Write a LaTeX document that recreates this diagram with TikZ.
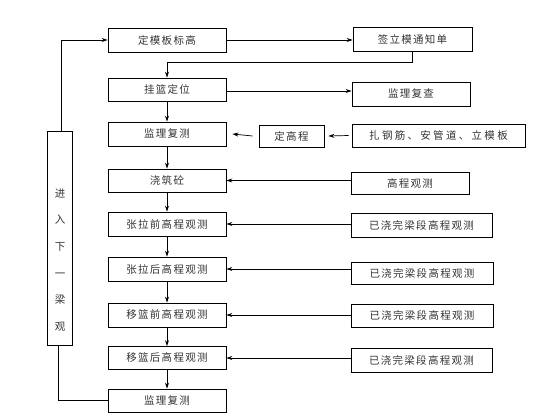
\documentclass[tikz,border=0pt]{standalone}
\usepackage{fontspec}
\newfontfamily\cjk[LetterSpace=12]{Noto Sans CJK SC}
\newfontfamily\cjkwide[LetterSpace=22]{Noto Sans CJK SC}
\usetikzlibrary{arrows.meta}
\begin{document}
\begin{tikzpicture}[x=1pt,y=-1pt,
  box/.style={draw=black,line width=0.8pt,inner sep=0pt,minimum width=118pt,minimum height=23pt,font=\cjk\fontsize{10.5}{12}\selectfont,text=black!80},
  arr/.style={line width=0.7pt,-{Stealth[length=6pt,width=4pt]}},
  ln/.style={line width=0.7pt}]
\useasboundingbox (0,0) rectangle (560,420);
% main column
\node[box,minimum height=24pt] (dmb) at (167,40) {定模板标高};
\node[box] (gl) at (167,89.5) {挂篮定位};
\node[box,minimum height=24pt] (jl1) at (167,134) {监理复测};
\node[box] (jz) at (167,180.5) {浇筑砼};
\node[box,minimum height=24pt] (zq) at (167,224) {张拉前高程观测};
\node[box,minimum height=24pt] (zh) at (167,269) {张拉后高程观测};
\node[box,minimum height=24pt] (yq) at (167,315) {移篮前高程观测};
\node[box,minimum height=23pt] (yh) at (167,358) {移篮后高程观测};
\node[box] (jl2) at (167,400.5) {监理复测};
% right column
\node[box,minimum width=119pt,minimum height=24pt] (qlm) at (412.5,39) {签立模通知单};
\node[box,minimum height=24pt] (jlc) at (411,94) {监理复查};
\node[box,minimum width=65pt,minimum height=22pt] (dgc) at (291.5,136) {定高程};
\node[box,minimum width=173pt,minimum height=23pt,font=\cjkwide\fontsize{10.5}{12}\selectfont] (zgj) at (438.5,135.5) {扎钢筋、安管道、立模板};
\node[box,minimum height=22pt] (gcg) at (410,183) {高程观测};
\node[box,minimum width=141pt,minimum height=24pt] (yj1) at (421.5,225) {已浇完梁段高程观测};
\node[box,minimum width=142pt,minimum height=22pt] (yj2) at (422,273) {已浇完梁段高程观测};
\node[box,minimum width=142pt,minimum height=23pt] (yj3) at (422,315.5) {已浇完梁段高程观测};
\node[box,minimum width=141pt,minimum height=24pt] (yj4) at (421.5,360) {已浇完梁段高程观测};
% left loop box
\node[box,minimum width=25pt,minimum height=214pt] (loop) at (59.5,238) {};
\node[font=\cjk\fontsize{10.5}{26.7}\selectfont,text=black!80,align=center,inner sep=0pt] (looptxt) at (60,260) {进\\入\\下\\一\\梁\\观};
% vertical flow
\draw[arr] (gl) -- (jl1);
\draw[arr] (jl1) -- (jz);
\draw[arr] (jz) -- (zq);
\draw[arr] (zq) -- (zh);
\draw[arr] (zh) -- (yq);
\draw[arr] (yq) -- (yh);
\draw[arr] (yh) -- (jl2);
% top connections
\draw[arr] (dmb.east) -- (dmb.east -| qlm.west);
\draw[arr] (qlm.south) -- ++(0,11) -| (gl.north);
\draw[arr] ([yshift=-1.5pt]gl.east) -- ([yshift=-1.5pt]gl.east -| jlc.west);
% feed-ins
\draw[arr] ([xshift=-6pt]dgc.west) -- ([xshift=6pt]jl1.east);
\draw[arr] ([xshift=-3pt]zgj.west) -- ([xshift=4pt]dgc.east);
\draw[arr] (gcg.west |- jz.east) -- (jz.east);
\draw[arr] (yj1.west |- zq.east) -- (zq.east);
\draw[arr] (yj2.west |- zh.east) -- (zh.east);
\draw[arr] (yj3.west |- yq.east) -- (yq.east);
\draw[arr] (yj4.west |- yh.east) -- (yh.east);
% loop
\draw[arr] ([xshift=1.5pt]loop.north) |- (dmb.west);
\draw[ln] (jl2.west) -| ([xshift=-1.5pt]loop.south);
\end{tikzpicture}
\end{document}
